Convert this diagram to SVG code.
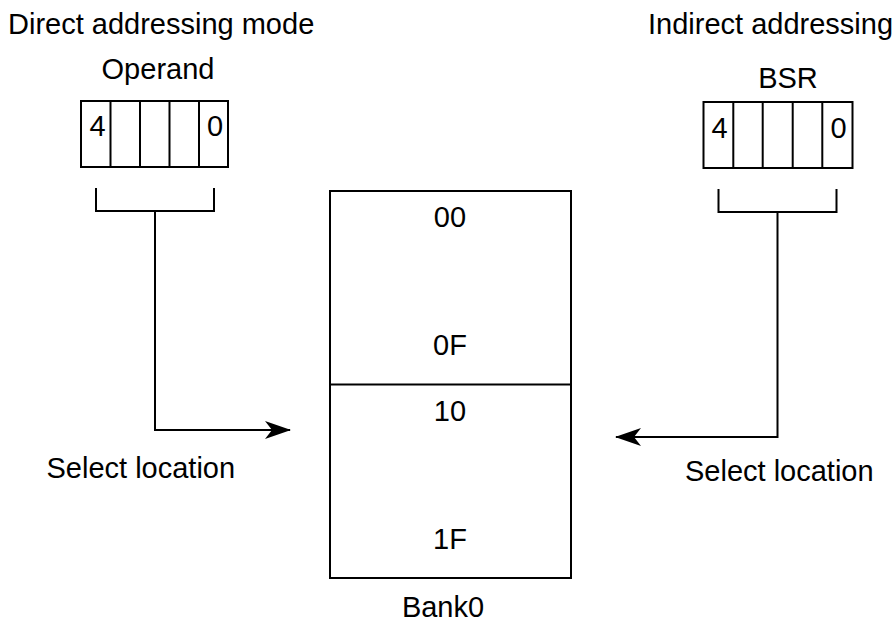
<svg xmlns="http://www.w3.org/2000/svg" width="896" height="624" viewBox="0 0 896 624">
<style>
text{font-family:"Liberation Sans",Arial,sans-serif;font-size:29px;fill:#000}
.ln{fill:none;stroke:#000;stroke-width:2}
.c{text-anchor:middle}
</style>
<defs>
<marker id="ah" viewBox="0 0 26 18" refX="25" refY="9" markerWidth="26" markerHeight="18" markerUnits="userSpaceOnUse" orient="auto">
<path d="M0,0 L26,9 L0,18 L7,9 Z" fill="#000"/>
</marker>
</defs>
<rect width="896" height="624" fill="#fff"/>
<text x="8" y="34">Direct addressing mode</text>
<text x="648" y="34">Indirect addressing</text>
<g id="operand">
<text class="c" x="158" y="79">Operand</text>
<rect class="ln" x="81" y="101" width="147" height="66"/>
<path class="ln" d="M110.5,101V167M140,101V167M169.5,101V167M199,101V167"/>
<text x="89.5" y="136">4</text>
<text x="207" y="136">0</text>
<path class="ln" d="M96,188V211H214V188"/>
</g>
<g id="bsr">
<text class="c" x="788" y="88">BSR</text>
<rect class="ln" x="703.5" y="102" width="149" height="66"/>
<path class="ln" d="M733.3,102V168M762.7,102V168M792.7,102V168M822.3,102V168"/>
<text x="711.5" y="138">4</text>
<text x="830.5" y="138">0</text>
<path class="ln" d="M718.5,189V212H836.5V189"/>
</g>
<g id="bank0">
<rect class="ln" x="330" y="191" width="241" height="387"/>
<path class="ln" d="M330,384.5H571"/>
<text class="c" x="450" y="227">00</text>
<text class="c" x="450" y="355">0F</text>
<text class="c" x="450" y="421">10</text>
<text class="c" x="450" y="549">1F</text>
<text class="c" x="443" y="617">Bank0</text>
</g>
<g id="connectors">
<path class="ln" d="M155,211V430H290" marker-end="url(#ah)"/>
<path class="ln" d="M777.5,212V437H616" marker-end="url(#ah)"/>
</g>
<text x="46.5" y="478">Select location</text>
<text x="685" y="481">Select location</text>
</svg>
